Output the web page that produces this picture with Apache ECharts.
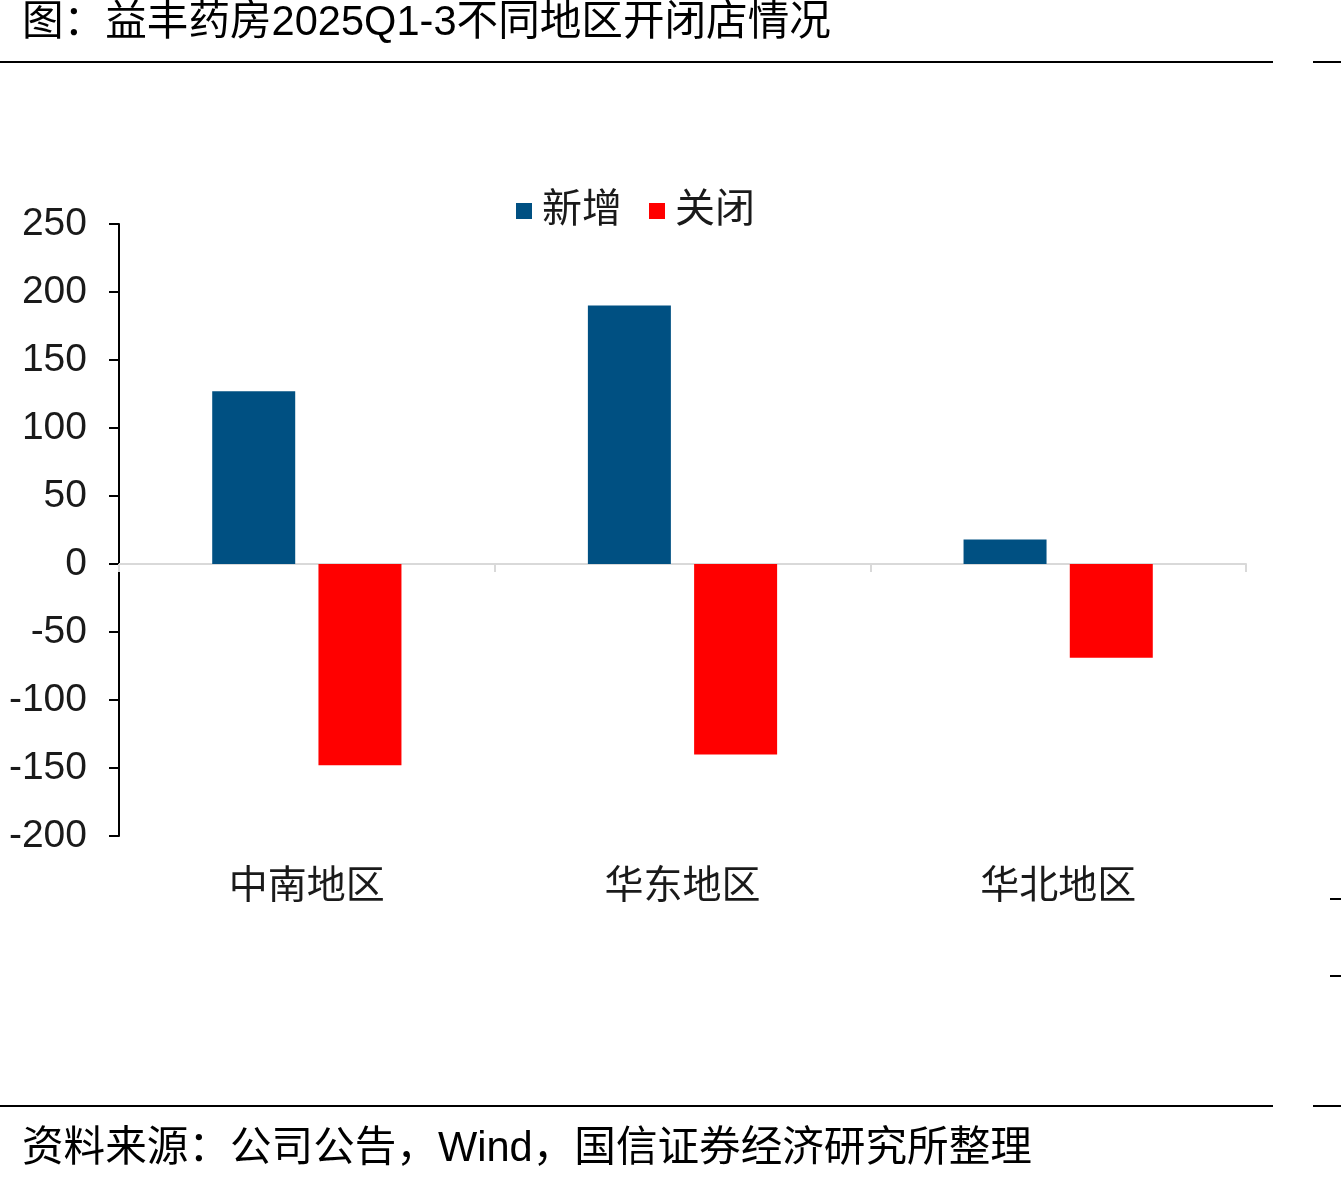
<!DOCTYPE html>
<html>
<head>
<meta charset="utf-8">
<script src="https://cdn.jsdelivr.net/npm/echarts@6/dist/echarts.min.js"></script>
<style>
html,body{margin:0;padding:0;background:#fff;}
#c{width:1341px;height:1182px;}
</style>
</head>
<body>
<div id="c"></div>
<script>
const titleText = '图：益丰药房2025Q1-3不同地区开闭店情况';
const sourceText = '资料来源：公司公告，Wind，国信证券经济研究所整理';
const categories = ['中南地区', '华东地区', '华北地区'];
const seriesNames = ['新增', '关闭'];
const openedValues = [127, 190, 18];
const closedValues = [-148, -140, -69];
const yMin = -200, yMax = 250, yInterval = 50;

const FONT = '"Liberation Sans", Arial, "Noto Sans CJK SC", sans-serif';
const chart = echarts.init(document.getElementById('c'), null, {renderer: 'canvas'});
const lineStyle = {stroke: '#000', lineWidth: 2};
chart.setOption({
  backgroundColor: '#fff',
  animation: false,
  graphic: [
    {type: 'text', left: 22, top: 3, style: {text: titleText, font: '41.6px ' + FONT, fill: '#000'}},
    {type: 'line', shape: {x1: 0, y1: 62, x2: 1273, y2: 62}, style: lineStyle},
    {type: 'line', shape: {x1: 1313, y1: 62, x2: 1341, y2: 62}, style: lineStyle},
    {type: 'line', shape: {x1: 0, y1: 1106, x2: 1273, y2: 1106}, style: lineStyle},
    {type: 'line', shape: {x1: 1313, y1: 1106, x2: 1341, y2: 1106}, style: lineStyle},
    {type: 'line', shape: {x1: 1330, y1: 899, x2: 1341, y2: 899}, style: lineStyle},
    {type: 'line', shape: {x1: 1330, y1: 976, x2: 1341, y2: 976}, style: lineStyle},
    {type: 'text', left: 22, top: 1129, style: {text: sourceText, font: '41.6px ' + FONT, fill: '#000'}}
  ],
  legend: {
    left: 511, top: 186,
    icon: 'rect', itemWidth: 16, itemHeight: 16, itemGap: 27,
    textStyle: {fontSize: 40, color: '#1a1a1a', fontFamily: FONT, padding: [0, 0, 0, 5]},
    data: seriesNames
  },
  grid: {left: 119, right: 95, top: 224, bottom: 346, containLabel: false},
  xAxis: [
    {
      type: 'category', data: categories,
      axisLine: {onZero: true, lineStyle: {color: '#d9d9d9', width: 2}},
      axisTick: {show: true, length: 8, lineStyle: {color: '#d9d9d9', width: 2}},
      axisLabel: {show: false}
    },
    {
      type: 'category', data: categories, position: 'bottom',
      axisLine: {show: false, onZero: false},
      axisTick: {show: false},
      axisLabel: {show: true, margin: 32, fontSize: 39, color: '#1a1a1a', fontFamily: FONT}
    }
  ],
  yAxis: {
    type: 'value', min: yMin, max: yMax, interval: yInterval,
    axisLine: {show: true, lineStyle: {color: '#000', width: 2}},
    axisTick: {show: true, inside: false, length: 10, lineStyle: {color: '#000', width: 2}},
    splitLine: {show: false},
    axisLabel: {margin: 32, fontSize: 39, color: '#1a1a1a', fontFamily: FONT, padding: [7, 0, 0, 0]}
  },
  series: [
    {name: seriesNames[0], type: 'bar', data: openedValues, barWidth: 83, barGap: '28%', itemStyle: {color: '#005082'}},
    {name: seriesNames[1], type: 'bar', data: closedValues, barWidth: 83, barGap: '28%', itemStyle: {color: '#ff0000'}}
  ]
});
</script>
</body>
</html>
